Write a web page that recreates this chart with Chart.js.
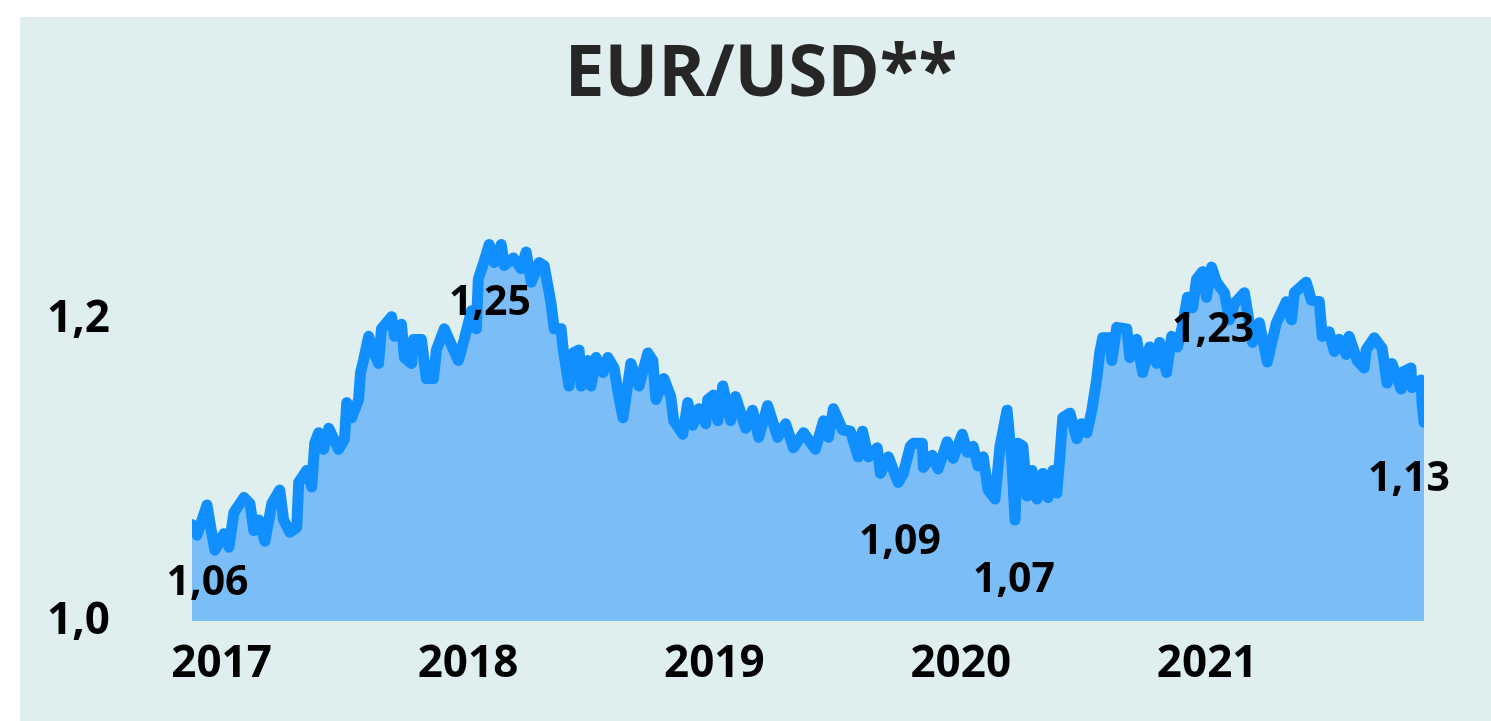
<!DOCTYPE html>
<html>
<head>
<meta charset="utf-8">
<title>EUR/USD</title>
<script src="https://cdn.jsdelivr.net/npm/chart.js@4"></script>
<style>
  html, body { margin: 0; padding: 0; background: #ffffff; overflow: hidden; }
  canvas { display: block; }
</style>
</head>
<body>
<canvas id="rateChart" width="1491" height="721"></canvas>
<script>
// dates as decimal years
const dates = [
  2017.000, 2017.020, 2017.061, 2017.073, 2017.093, 2017.130, 2017.150, 2017.170, 2017.211, 2017.235,
  2017.251, 2017.271, 2017.296, 2017.324, 2017.356, 2017.372, 2017.397, 2017.425, 2017.433, 2017.466,
  2017.486, 2017.498, 2017.514, 2017.534, 2017.555, 2017.595, 2017.619, 2017.628, 2017.648, 2017.676,
  2017.684, 2017.696, 2017.717, 2017.729, 2017.757, 2017.769, 2017.810, 2017.822, 2017.850, 2017.862,
  2017.891, 2017.899, 2017.931, 2017.951, 2017.980, 2017.992, 2018.024, 2018.081, 2018.105, 2018.134,
  2018.154, 2018.162, 2018.186, 2018.206, 2018.227, 2018.255, 2018.267, 2018.304, 2018.336, 2018.356,
  2018.377, 2018.409, 2018.429, 2018.445, 2018.457, 2018.470, 2018.498, 2018.506, 2018.530, 2018.547,
  2018.571, 2018.579, 2018.607, 2018.619, 2018.640, 2018.668, 2018.688, 2018.713, 2018.729, 2018.749,
  2018.781, 2018.814, 2018.850, 2018.870, 2018.883, 2018.915, 2018.943, 2018.955, 2018.992, 2019.012,
  2019.032, 2019.057, 2019.085, 2019.093, 2019.117, 2019.134, 2019.154, 2019.186, 2019.206, 2019.247,
  2019.275, 2019.300, 2019.336, 2019.377, 2019.409, 2019.441, 2019.482, 2019.530, 2019.563, 2019.583,
  2019.603, 2019.640, 2019.672, 2019.704, 2019.721, 2019.745, 2019.781, 2019.794, 2019.826, 2019.866,
  2019.887, 2019.915, 2019.927, 2019.964, 2019.968, 2020.004, 2020.028, 2020.065, 2020.089, 2020.126,
  2020.146, 2020.170, 2020.190, 2020.211, 2020.231, 2020.259, 2020.279, 2020.308, 2020.328, 2020.340,
  2020.352, 2020.372, 2020.389, 2020.409, 2020.429, 2020.453, 2020.474, 2020.494, 2020.510, 2020.522,
  2020.534, 2020.563, 2020.591, 2020.611, 2020.632, 2020.652, 2020.672, 2020.684, 2020.696, 2020.725,
  2020.733, 2020.753, 2020.794, 2020.806, 2020.834, 2020.858, 2020.887, 2020.915, 2020.927, 2020.955,
  2020.976, 2021.000, 2021.020, 2021.040, 2021.061, 2021.077, 2021.101, 2021.117, 2021.138, 2021.158,
  2021.190, 2021.211, 2021.231, 2021.271, 2021.304, 2021.332, 2021.364, 2021.401, 2021.441, 2021.462,
  2021.474, 2021.522, 2021.543, 2021.575, 2021.587, 2021.615, 2021.636, 2021.656, 2021.684, 2021.696,
  2021.729, 2021.757, 2021.765, 2021.798, 2021.830, 2021.850, 2021.870, 2021.907, 2021.911, 2021.947,
  2021.951, 2021.988, 2021.992, 2022.000
];

// EUR/USD rate
const rates = [
  1.064, 1.057, 1.077, 1.065, 1.047, 1.058, 1.049, 1.072, 1.082, 1.078,
  1.060, 1.067, 1.053, 1.078, 1.087, 1.067, 1.059, 1.062, 1.092, 1.100,
  1.089, 1.118, 1.125, 1.114, 1.128, 1.114, 1.121, 1.145, 1.135, 1.147,
  1.165, 1.173, 1.189, 1.182, 1.171, 1.194, 1.202, 1.189, 1.197, 1.175,
  1.171, 1.187, 1.187, 1.161, 1.161, 1.180, 1.194, 1.173, 1.187, 1.206,
  1.194, 1.227, 1.239, 1.250, 1.238, 1.250, 1.236, 1.241, 1.234, 1.245,
  1.225, 1.238, 1.236, 1.222, 1.211, 1.194, 1.194, 1.181, 1.156, 1.178,
  1.180, 1.156, 1.173, 1.156, 1.175, 1.165, 1.175, 1.168, 1.152, 1.135,
  1.171, 1.156, 1.178, 1.173, 1.147, 1.161, 1.149, 1.133, 1.124, 1.145,
  1.130, 1.141, 1.131, 1.147, 1.150, 1.133, 1.156, 1.133, 1.149, 1.128,
  1.140, 1.122, 1.143, 1.122, 1.131, 1.115, 1.125, 1.114, 1.133, 1.122,
  1.141, 1.127, 1.126, 1.109, 1.126, 1.109, 1.115, 1.098, 1.109, 1.092,
  1.098, 1.116, 1.118, 1.118, 1.102, 1.110, 1.101, 1.119, 1.108, 1.124,
  1.112, 1.116, 1.103, 1.109, 1.087, 1.081, 1.116, 1.140, 1.105, 1.067,
  1.118, 1.116, 1.083, 1.100, 1.081, 1.098, 1.082, 1.100, 1.085, 1.109,
  1.135, 1.138, 1.121, 1.131, 1.125, 1.140, 1.161, 1.178, 1.188, 1.188,
  1.173, 1.195, 1.194, 1.175, 1.187, 1.165, 1.182, 1.171, 1.185, 1.165,
  1.189, 1.182, 1.196, 1.215, 1.208, 1.227, 1.232, 1.215, 1.235, 1.225,
  1.218, 1.200, 1.211, 1.218, 1.185, 1.198, 1.172, 1.198, 1.212, 1.200,
  1.218, 1.225, 1.213, 1.212, 1.189, 1.192, 1.179, 1.187, 1.177, 1.189,
  1.173, 1.168, 1.180, 1.188, 1.181, 1.158, 1.171, 1.154, 1.165, 1.168,
  1.155, 1.160, 1.145, 1.132
];

const yearLabels = ['2017', '2018', '2019', '2020', '2021'];
const yTickValues = [1.0, 1.2];

// value labels written on the chart
const noteTexts = ['1,06', '1,25', '1,09', '1,07', '1,23', '1,13'];
const noteDates = [2017.063, 2018.209, 2019.873, 2020.336, 2021.144, 2021.939];
const noteRates = [1.025, 1.211, 1.052, 1.027, 1.193, 1.094];

const boldFont = size => ({ family: 'Open Sans', weight: 'bold', size: size });

// light panel behind the whole chart, title centred on the panel
const panelBackground = {
  id: 'panelBackground',
  afterLayout(chart) {
    if (chart.titleBlock) {
      chart.titleBlock.left = 31;
      chart.titleBlock.right = chart.width;
    }
  },
  beforeDraw(chart) {
    const ctx = chart.ctx;
    ctx.save();
    ctx.fillStyle = '#ffffff';
    ctx.fillRect(0, 0, chart.width, chart.height);
    ctx.fillStyle = '#dfeeee';
    ctx.fillRect(20, 17, chart.width - 20, chart.height - 17);
    ctx.restore();
  }
};

// draw the value notes
const valueNotes = {
  id: 'valueNotes',
  afterDatasetsDraw(chart) {
    const ctx = chart.ctx;
    const xs = chart.scales.x;
    const ys = chart.scales.y;
    ctx.save();
    ctx.font = 'bold 41px "Open Sans"';
    ctx.fillStyle = '#000000';
    ctx.textAlign = 'center';
    ctx.textBaseline = 'middle';
    noteTexts.forEach((t, i) => {
      ctx.fillText(t, xs.getPixelForValue(noteDates[i]), ys.getPixelForValue(noteRates[i]));
    });
    ctx.restore();
  }
};

const ctx = document.getElementById('rateChart');

new Chart(ctx, {
  type: 'line',
  data: {
    datasets: [{
      data: dates.map((d, i) => ({ x: d, y: rates[i] })),
      borderColor: '#128fff',
      backgroundColor: '#7bbef7',
      borderWidth: 11,
      borderJoinStyle: 'round',
      borderCapStyle: 'round',
      fill: 'start',
      pointRadius: 0,
      tension: 0
    }]
  },
  options: {
    responsive: false,
    animation: false,
    layout: { padding: { left: 47, right: 67, top: 0, bottom: 0 } },
    plugins: {
      legend: { display: false },
      tooltip: { enabled: false },
      title: {
        display: true,
        text: 'EUR/USD**',
        color: '#262626',
        font: boldFont(71),
        padding: { top: 33, bottom: 51 }
      }
    },
    scales: {
      x: {
        type: 'linear',
        min: 2017,
        max: 2022,
        grid: { display: false, drawTicks: false },
        border: { display: false },
        afterBuildTicks: axis => {
          axis.ticks = yearLabels.map(y => ({ value: Number(y) + 0.12 }));
        },
        afterFit: axis => { axis.height = 100; },
        ticks: {
          padding: 17,
          maxRotation: 0,
          autoSkip: false,
          color: '#000000',
          font: boldFont(44),
          callback: (v, i) => yearLabels[i]
        }
      },
      y: {
        min: 1.0,
        max: 1.3,
        grid: { display: false, drawTicks: false },
        border: { display: false },
        afterBuildTicks: axis => {
          axis.ticks = yTickValues.map(v => ({ value: v }));
        },
        afterFit: axis => { axis.width = 145; },
        ticks: {
          padding: 0,
          crossAlign: 'far',
          color: '#000000',
          font: boldFont(44),
          callback: v => v.toFixed(1).replace('.', ',')
        }
      }
    }
  },
  plugins: [panelBackground, valueNotes]
});
</script>
</body>
</html>
